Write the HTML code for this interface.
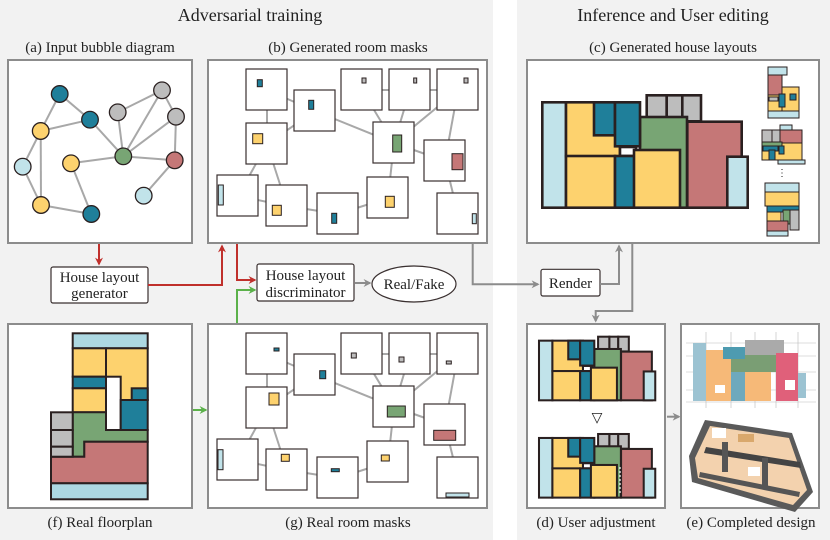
<!DOCTYPE html>
<html><head><meta charset="utf-8"><style>
html,body{margin:0;padding:0;background:#fff;}
svg{display:block;}
text{font-family:"Liberation Serif",serif;fill:#222;}
</style></head><body>
<svg width="830" height="540" viewBox="0 0 830 540" xmlns="http://www.w3.org/2000/svg">
<defs>
<marker id="ar" viewBox="0 0 10 10" refX="8" refY="5" markerWidth="4" markerHeight="4" orient="auto"><path d="M0,0 L10,5 L0,10 L3,5 z" fill="#c0302c"/></marker>
<marker id="ag" viewBox="0 0 10 10" refX="8" refY="5" markerWidth="4" markerHeight="4" orient="auto"><path d="M0,0 L10,5 L0,10 L3,5 z" fill="#5bb14a"/></marker>
<marker id="ay" viewBox="0 0 10 10" refX="8" refY="5" markerWidth="4" markerHeight="4" orient="auto"><path d="M0,0 L10,5 L0,10 L3,5 z" fill="#8c8c8c"/></marker>
<g id="L" stroke="#2a2020">
<rect x="646.7" y="95.3" width="20" height="26" fill="#bdbdbd"/>
<rect x="666.7" y="95.3" width="15.6" height="26" fill="#bdbdbd"/>
<rect x="682.3" y="95.3" width="18.7" height="26" fill="#bdbdbd"/>
<rect x="640" y="117" width="47" height="90.7" fill="#78a574"/>
<rect x="687.3" y="121.7" width="54.4" height="86" fill="#c57777"/>
<rect x="727.3" y="156.7" width="20.4" height="51" fill="#c1e3ea"/>
<rect x="542.3" y="102.3" width="23.7" height="105.4" fill="#c1e3ea"/>
<rect x="566" y="102.3" width="54" height="54" fill="#fdd26e"/>
<rect x="594" y="102.3" width="21" height="33" fill="#1f7f9a"/>
<rect x="615" y="102.3" width="25" height="44" fill="#1f7f9a"/>
<rect x="620" y="147" width="16" height="9" fill="#fff"/>
<rect x="566" y="156" width="49" height="51.7" fill="#fdd26e"/>
<rect x="615" y="156" width="25" height="51.7" fill="#1f7f9a"/>
<rect x="634" y="150" width="46" height="57.7" fill="#fdd26e"/>
</g>
</defs>
<rect x="0" y="0" width="493" height="540" fill="#f2f2f2"/>
<rect x="517" y="0" width="313" height="540" fill="#f2f2f2"/>
<text x="250" y="21" font-size="18" text-anchor="middle">Adversarial training</text>
<text x="673" y="21" font-size="18" text-anchor="middle">Inference and User editing</text>
<g font-size="15" text-anchor="middle">
<text x="100" y="52">(a) Input bubble diagram</text>
<text x="348" y="52">(b) Generated room masks</text>
<text x="673" y="52">(c) Generated house layouts</text>
<text x="100" y="527">(f) Real floorplan</text>
<text x="348" y="527">(g) Real room masks</text>
<text x="596" y="527">(d) User adjustment</text>
<text x="751" y="527">(e) Completed design</text>
</g>
<g fill="#fff" stroke="#8c8c8c" stroke-width="2">
<rect x="8" y="60" width="184" height="183"/>
<rect x="208" y="60" width="279" height="183"/>
<rect x="527" y="60" width="292" height="183"/>
<rect x="8" y="324" width="184" height="184"/>
<rect x="208" y="324" width="279" height="184"/>
<rect x="527" y="324" width="138" height="184"/>
<rect x="681" y="324" width="138" height="184"/>
</g>
<!-- bubble diagram -->
<g stroke="#a8a8a8" stroke-width="2">
<line x1="59.7" y1="94" x2="90" y2="119.7"/><line x1="59.7" y1="94" x2="40.7" y2="131"/>
<line x1="40.7" y1="131" x2="90" y2="119.7"/><line x1="90" y1="119.7" x2="123.3" y2="156.3"/>
<line x1="40.7" y1="131" x2="22.7" y2="166.7"/><line x1="40.7" y1="131" x2="41" y2="205"/>
<line x1="22.7" y1="166.7" x2="41" y2="205"/><line x1="41" y1="205" x2="91.3" y2="214"/>
<line x1="71" y1="163.3" x2="91.3" y2="214"/><line x1="71" y1="163.3" x2="123.3" y2="156.3"/>
<line x1="117.7" y1="112.3" x2="123.3" y2="156.3"/><line x1="162" y1="90.3" x2="123.3" y2="156.3"/>
<line x1="176" y1="116.7" x2="123.3" y2="156.3"/><line x1="117.7" y1="112.3" x2="162" y2="90.3"/>
<line x1="162" y1="90.3" x2="176" y2="116.7"/><line x1="176" y1="116.7" x2="174.7" y2="160.3"/>
<line x1="123.3" y1="156.3" x2="174.7" y2="160.3"/><line x1="174.7" y1="160.3" x2="143.7" y2="195.7"/>
</g>
<g stroke="#2a2020" stroke-width="1.3">
<circle cx="59.7" cy="94" r="8.3" fill="#1f7f9a"/><circle cx="90" cy="119.7" r="8.3" fill="#1f7f9a"/>
<circle cx="40.7" cy="131" r="8.3" fill="#fdd26e"/><circle cx="22.7" cy="166.7" r="8.3" fill="#c1e3ea"/>
<circle cx="71" cy="163.3" r="8.3" fill="#fdd26e"/><circle cx="41" cy="205" r="8.3" fill="#fdd26e"/>
<circle cx="91.3" cy="214" r="8.3" fill="#1f7f9a"/><circle cx="117.7" cy="112.3" r="8.3" fill="#bdbdbd"/>
<circle cx="162" cy="90.3" r="8.3" fill="#bdbdbd"/><circle cx="176" cy="116.7" r="8.3" fill="#bdbdbd"/>
<circle cx="123.3" cy="156.3" r="8.3" fill="#78a574"/><circle cx="174.7" cy="160.3" r="8.3" fill="#c57777"/>
<circle cx="143.7" cy="195.7" r="8.3" fill="#c1e3ea"/>
</g>
<!-- masks (b) and (g) -->
<g id="M">
<g stroke="#a8a8a8" stroke-width="2">
<line x1="267" y1="90" x2="267" y2="144"/><line x1="267" y1="90" x2="315" y2="111"/>
<line x1="267" y1="144" x2="315" y2="111"/><line x1="315" y1="111" x2="394" y2="143"/>
<line x1="362" y1="90" x2="394" y2="143"/><line x1="410" y1="90" x2="394" y2="143"/>
<line x1="458" y1="90" x2="394" y2="143"/><line x1="362" y1="90" x2="458" y2="90"/>
<line x1="458" y1="90" x2="445" y2="161"/><line x1="394" y1="143" x2="445" y2="161"/>
<line x1="394" y1="143" x2="388" y2="198"/><line x1="267" y1="144" x2="238" y2="196"/>
<line x1="267" y1="144" x2="287" y2="206"/><line x1="238" y1="196" x2="287" y2="206"/>
<line x1="287" y1="206" x2="338" y2="214"/><line x1="338" y1="214" x2="388" y2="198"/>
<line x1="445" y1="161" x2="458" y2="214"/>
</g>
<g fill="#fff" stroke="#3a3030" stroke-width="1.2">
<rect x="246" y="69" width="41" height="41"/><rect x="294" y="90" width="41" height="41"/>
<rect x="341" y="69" width="41" height="41"/><rect x="389" y="69" width="41" height="41"/>
<rect x="437" y="69" width="41" height="41"/><rect x="246" y="123" width="41" height="41"/>
<rect x="373" y="122" width="41" height="41"/><rect x="424" y="140" width="41" height="41"/>
<rect x="217" y="175" width="41" height="41"/><rect x="266" y="185" width="41" height="41"/>
<rect x="317" y="193" width="41" height="41"/><rect x="367" y="177" width="41" height="41"/>
<rect x="437" y="193" width="41" height="41"/>
</g>
</g>
<use href="#M" y="264"/>
<g stroke="#2a2020" stroke-width="1">
<rect x="257.3" y="79.7" width="5" height="7" fill="#1f7f9a"/><rect x="308.7" y="100.3" width="5" height="9" fill="#1f7f9a"/>
<rect x="362" y="78" width="4" height="5" fill="#bdbdbd"/><rect x="413.7" y="78" width="3" height="5" fill="#bdbdbd"/>
<rect x="464" y="78" width="4" height="5" fill="#bdbdbd"/><rect x="252.7" y="133.7" width="10" height="10" fill="#fdd26e"/>
<rect x="392.7" y="135" width="9" height="17" fill="#78a574"/><rect x="452" y="153.7" width="11" height="16" fill="#c57777"/>
<rect x="218.3" y="185" width="5" height="20" fill="#c1e3ea"/><rect x="272.3" y="205.3" width="9" height="10" fill="#fdd26e"/>
<rect x="331.7" y="213.3" width="5" height="10" fill="#1f7f9a"/><rect x="385.3" y="196.3" width="9" height="11" fill="#fdd26e"/>
<rect x="472.3" y="213.7" width="4" height="10" fill="#c1e3ea"/>
<rect x="274" y="348" width="5" height="3" fill="#1f7f9a"/><rect x="319.7" y="370.7" width="6" height="8" fill="#1f7f9a"/>
<rect x="351.3" y="353" width="5" height="5" fill="#bdbdbd"/><rect x="399" y="357" width="5" height="5" fill="#bdbdbd"/>
<rect x="446.3" y="361" width="5" height="3" fill="#bdbdbd"/><rect x="269" y="393" width="10" height="12" fill="#fdd26e"/>
<rect x="387.3" y="406" width="18" height="11" fill="#78a574"/><rect x="433.7" y="430.3" width="22" height="10" fill="#c57777"/>
<rect x="218" y="449.7" width="5" height="20" fill="#c1e3ea"/><rect x="281.3" y="454.3" width="8" height="7" fill="#fdd26e"/>
<rect x="331.3" y="468.7" width="8" height="3" fill="#1f7f9a"/><rect x="381.3" y="455" width="8" height="6" fill="#fdd26e"/>
<rect x="446" y="493" width="23" height="4" fill="#c1e3ea"/>
</g>
<!-- (c) layouts -->
<use href="#L" stroke-width="2.6"/>
<g stroke="#2a2020" stroke-width="1">
<rect x="768" y="67" width="19" height="8" fill="#c1e3ea"/>
<rect x="768" y="75" width="14" height="20" fill="#c57777"/>
<rect x="782" y="87" width="17" height="24" fill="#fdd26e"/>
<rect x="768" y="95" width="14" height="16" fill="#fdd26e"/>
<rect x="779" y="94" width="6" height="13" fill="#1f7f9a"/>
<rect x="790" y="94" width="6" height="6" fill="#1f7f9a"/>
<rect x="769" y="97" width="9" height="4" fill="#bdbdbd"/>
<rect x="768" y="111" width="31" height="7" fill="#c1e3ea"/>
<rect x="780" y="125" width="12" height="5" fill="#c1e3ea"/>
<rect x="778" y="160" width="27" height="4" fill="#c1e3ea"/>
<rect x="762" y="130" width="40" height="30" fill="#fdd26e"/>
<rect x="762" y="130" width="10" height="12" fill="#bdbdbd"/>
<rect x="772" y="130" width="8" height="12" fill="#bdbdbd"/>
<rect x="780" y="130" width="22" height="13" fill="#c57777"/>
<rect x="762" y="142" width="20" height="8" fill="#78a574"/>
<rect x="763" y="146" width="15" height="5" fill="#1f7f9a"/>
<rect x="769" y="150" width="6" height="10" fill="#1f7f9a"/>
<rect x="779" y="146" width="5" height="8" fill="#1f7f9a"/>
<rect x="765" y="183" width="34" height="9" fill="#c1e3ea"/>
<rect x="765" y="192" width="34" height="14" fill="#fdd26e"/>
<rect x="767" y="206" width="32" height="6" fill="#1f7f9a"/>
<rect x="767" y="212" width="14" height="9" fill="#fdd26e"/>
<rect x="783" y="210" width="8" height="14" fill="#78a574"/>
<rect x="790" y="210" width="9" height="20" fill="#bdbdbd"/>
<rect x="767" y="221" width="21" height="10" fill="#c57777"/>
<rect x="767" y="231" width="21" height="5" fill="#c1e3ea"/>
</g>
<text x="782" y="176" font-size="10" text-anchor="middle">⋮</text>
<!-- (d) -->
<use href="#L" stroke-width="3.6" transform="translate(539,336.7) scale(0.566) translate(-542.3,-95.3)"/>
<use href="#L" stroke-width="3.6" transform="translate(539,434) scale(0.566) translate(-542.3,-95.3)"/>
<line x1="620" y1="467" x2="620" y2="494" stroke="#fff" stroke-width="1.2" stroke-dasharray="2,2"/>
<text x="597" y="422" font-size="14" text-anchor="middle" fill="#555">▽</text>
<!-- (f) -->
<g stroke="#2a2020" stroke-width="2">
<rect x="72.7" y="333.3" width="75" height="15" fill="#add8e2"/>
<rect x="106" y="348.3" width="41.7" height="51.7" fill="#fdd26e"/>
<rect x="72.7" y="348.3" width="33.3" height="28.4" fill="#fdd26e"/>
<rect x="72.7" y="376.7" width="33.3" height="11.6" fill="#1f7f9a"/>
<rect x="72.7" y="388.3" width="33.3" height="24" fill="#fdd26e"/>
<rect x="106" y="376.7" width="14.7" height="53.3" fill="#fff"/>
<rect x="131.7" y="388.3" width="16" height="11.7" fill="#1f7f9a"/>
<rect x="120.7" y="400" width="27" height="30" fill="#1f7f9a"/>
<polygon points="72.7,412.3 106,412.3 106,430 147.7,430 147.7,441.7 84.3,441.7 84.3,456.7 72.7,456.7" fill="#78a574"/>
<polygon points="51,456.7 84.3,456.7 84.3,441.7 147.7,441.7 147.7,483.3 51,483.3" fill="#c57777"/>
<rect x="51" y="412.3" width="21.7" height="17.7" fill="#bdbdbd"/>
<rect x="51" y="430" width="21.7" height="16.7" fill="#bdbdbd"/>
<rect x="51" y="446.7" width="21.7" height="10" fill="#bdbdbd"/>
<rect x="51" y="483.3" width="96.7" height="16" fill="#add8e2"/>
</g>
<!-- (e) -->
<g stroke="#bbb" stroke-width="0.6">
<line x1="686" y1="343" x2="816" y2="343"/><line x1="686" y1="356" x2="816" y2="356"/>
<line x1="686" y1="372" x2="816" y2="372"/><line x1="686" y1="390" x2="816" y2="390"/>
<line x1="686" y1="402" x2="816" y2="402"/>
<line x1="706" y1="332" x2="706" y2="408"/><line x1="731" y1="332" x2="731" y2="408"/>
<line x1="755" y1="332" x2="755" y2="408"/><line x1="776" y1="332" x2="776" y2="408"/>
<line x1="798" y1="332" x2="798" y2="408"/>
</g>
<rect x="745" y="340" width="39" height="15" fill="#aaa"/>
<rect x="693" y="343" width="13" height="58" fill="#9cc3d2"/>
<rect x="706" y="350" width="25" height="51" fill="#f6b978"/>
<rect x="731" y="355" width="45" height="17" fill="#7a9e74"/>
<rect x="723" y="347" width="22" height="12" fill="#4e9bb0"/>
<rect x="731" y="372" width="14" height="29" fill="#6ea9bd"/>
<rect x="745" y="372" width="26" height="29" fill="#f6b978"/>
<rect x="776" y="353" width="22" height="48" fill="#e0607a"/>
<rect x="798" y="373" width="8" height="25" fill="#9cc3d2"/>
<rect x="785" y="380" width="10" height="10" fill="#fff"/>
<rect x="715" y="385" width="10" height="8" fill="#fff"/>
<polygon points="705,420 792,433 813,492 795,512 692,482 689,456" fill="#5a5a5a"/>
<polygon points="710,426 789,438 807,490 793,505 698,478 695,458" fill="#f3d2ae"/>
<polygon points="706,447 800,462 801,468 704,453" fill="#444"/>
<polygon points="700,472 800,492 799,497 699,477" fill="#555"/>
<rect x="722" y="442" width="6" height="30" fill="#555"/>
<rect x="762" y="458" width="6" height="30" fill="#555"/>
<rect x="712" y="428" width="14" height="10" fill="#fff"/>
<rect x="738" y="434" width="16" height="8" fill="#d9a86c"/>
<rect x="748" y="467" width="12" height="9" fill="#fff"/>
<!-- boxes -->
<g stroke="#3a3030" stroke-width="1.2" fill="#fff">
<rect x="51" y="267" width="97" height="36" rx="2"/>
<rect x="257" y="264" width="97" height="37" rx="2"/>
<ellipse cx="414" cy="284" rx="42" ry="18"/>
<rect x="541" y="269.3" width="59" height="26.7" rx="2"/>
</g>
<g font-size="15" text-anchor="middle">
<text x="99.5" y="282">House layout</text><text x="99.5" y="298">generator</text>
<text x="305.5" y="280">House layout</text><text x="305.5" y="297">discriminator</text>
<text x="414" y="289">Real/Fake</text>
<text x="570.5" y="288">Render</text>
</g>
<!-- arrows -->
<g fill="none" stroke-width="2">
<path d="M99,244 V264" stroke="#c0302c" marker-end="url(#ar)"/>
<path d="M148,285 H222 V246" stroke="#c0302c" marker-end="url(#ar)"/>
<path d="M237,244 V280 H255" stroke="#c0302c" marker-end="url(#ar)"/>
<path d="M237,323 V290 H255" stroke="#5bb14a" marker-end="url(#ag)"/>
<path d="M193,410 H206" stroke="#5bb14a" marker-end="url(#ag)"/>
<path d="M355,283 H370" stroke="#8c8c8c" marker-end="url(#ay)"/>
<path d="M472.7,244 V284.3 H538" stroke="#8c8c8c" marker-end="url(#ay)"/>
<path d="M600,284 H619 V246" stroke="#8c8c8c" marker-end="url(#ay)"/>
<path d="M632.3,244 V311 H595.7 V321" stroke="#8c8c8c" marker-end="url(#ay)"/>
<path d="M667,416.7 H679" stroke="#8c8c8c" marker-end="url(#ay)"/>
</g>
</svg>
</body></html>
